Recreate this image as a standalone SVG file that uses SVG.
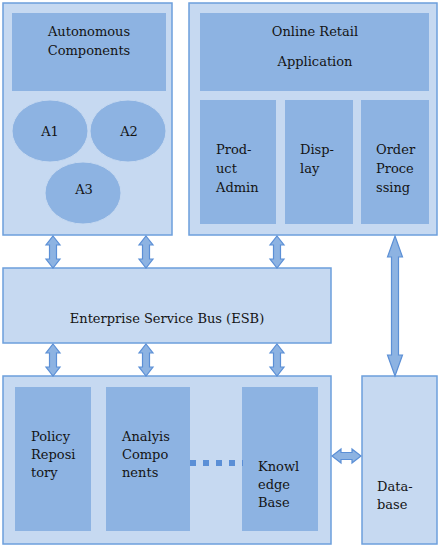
<svg xmlns="http://www.w3.org/2000/svg" width="443" height="545" viewBox="0 0 443 545">
<style>
.panel{fill:#c6d9f1;stroke:#6c9fdc;stroke-width:1.5}
.inner{fill:#8db3e2;stroke:none}
.ell{fill:#8db3e2;stroke:#c6d9f1;stroke-width:1}
.arrow{fill:#8db3e2;stroke:#5b8fd6;stroke-width:1.2;stroke-linejoin:miter}
text{font-family:"DejaVu Serif",serif;font-size:13px;fill:#141414}
.c{text-anchor:middle}
</style>
<rect width="443" height="545" fill="#ffffff"/>
<g id="autonomous">
<rect class="panel" x="3" y="3" width="169" height="232"/>
<rect class="inner" x="12" y="13" width="154" height="78"/>
<text class="c" x="89" y="36">Autonomous</text>
<text class="c" x="89" y="55">Components</text>
</g>
<g id="a1"><ellipse class="ell" cx="50" cy="131" rx="38" ry="31"/><text class="c" x="50" y="136">A1</text></g>
<g id="a2"><ellipse class="ell" cx="128" cy="131" rx="38" ry="31"/><text class="c" x="129" y="136">A2</text></g>
<g id="a3"><ellipse class="ell" cx="83" cy="193" rx="38" ry="31"/><text class="c" x="84" y="194">A3</text></g>
<g id="retail">
<rect class="panel" x="189" y="3" width="248" height="232"/>
<rect class="inner" x="200" y="13" width="229" height="78"/>
<text class="c" x="315" y="36">Online Retail</text>
<text class="c" x="315" y="66">Application</text>
</g>
<g id="product-admin"><rect class="inner" x="200" y="100" width="76" height="124"/>
<text x="216" y="154">Prod-</text><text x="216" y="173">uct</text><text x="216" y="192">Admin</text></g>
<g id="display"><rect class="inner" x="285" y="100" width="68" height="124"/>
<text x="300" y="154">Disp-</text><text x="300" y="173">lay</text></g>
<g id="order"><rect class="inner" x="361" y="100" width="68" height="124"/>
<text x="376" y="154">Order</text><text x="376" y="173">Proce</text><text x="376" y="192">ssing</text></g>
<g id="esb">
<rect class="panel" x="3" y="268" width="328" height="75"/>
<text class="c" x="167" y="323">Enterprise Service Bus (ESB)</text>
</g>
<g id="analysis-layer">
<rect class="panel" x="3" y="376" width="328" height="168"/>
</g>
<g id="policy"><rect class="inner" x="15" y="387" width="76" height="144"/>
<text x="31" y="441">Policy</text><text x="31" y="459">Reposi</text><text x="31" y="477">tory</text></g>
<g id="analysis"><rect class="inner" x="106" y="387" width="84" height="144"/>
<text x="122" y="441">Analyis</text><text x="122" y="459">Compo</text><text x="122" y="477">nents</text></g>
<g id="knowledge"><rect class="inner" x="242" y="387" width="76" height="144"/>
<text x="258" y="471">Knowl</text><text x="258" y="489">edge</text><text x="258" y="507">Base</text></g>
<g id="database"><rect class="panel" x="362" y="376" width="75" height="168"/>
<text x="377" y="491">Data-</text><text x="377" y="509">base</text></g>
<g id="connectors">
<path class="arrow" d="M53,236 L60,245 L56.5,245 L56.5,259 L60,259 L53,268 L46,259 L49.5,259 L49.5,245 L46,245 Z"/>
<path class="arrow" d="M146,236 L153,245 L149.5,245 L149.5,259 L153,259 L146,268 L139,259 L142.5,259 L142.5,245 L139,245 Z"/>
<path class="arrow" d="M277,236 L284,245 L280.5,245 L280.5,259 L284,259 L277,268 L270,259 L273.5,259 L273.5,245 L270,245 Z"/>
<path class="arrow" d="M53,344 L60,353 L56.5,353 L56.5,367 L60,367 L53,376 L46,367 L49.5,367 L49.5,353 L46,353 Z"/>
<path class="arrow" d="M146,344 L153,353 L149.5,353 L149.5,367 L153,367 L146,376 L139,367 L142.5,367 L142.5,353 L139,353 Z"/>
<path class="arrow" d="M277,344 L284,353 L280.5,353 L280.5,367 L284,367 L277,376 L270,367 L273.5,367 L273.5,353 L270,353 Z"/>
<path class="arrow" d="M395,236 L402.5,257 L398.5,257 L398.5,355 L402.5,355 L395,376 L387.5,355 L391.5,355 L391.5,257 L387.5,257 Z"/>
<path class="arrow" d="M332,456 L341,449 L341,452.5 L352,452.5 L352,449 L361,456 L352,463 L352,459.5 L341,459.5 L341,463 Z"/>
<line x1="190" y1="463" x2="243" y2="463" stroke="#5b8fd6" stroke-width="6" stroke-dasharray="6,7"/>
</g>
</svg>
